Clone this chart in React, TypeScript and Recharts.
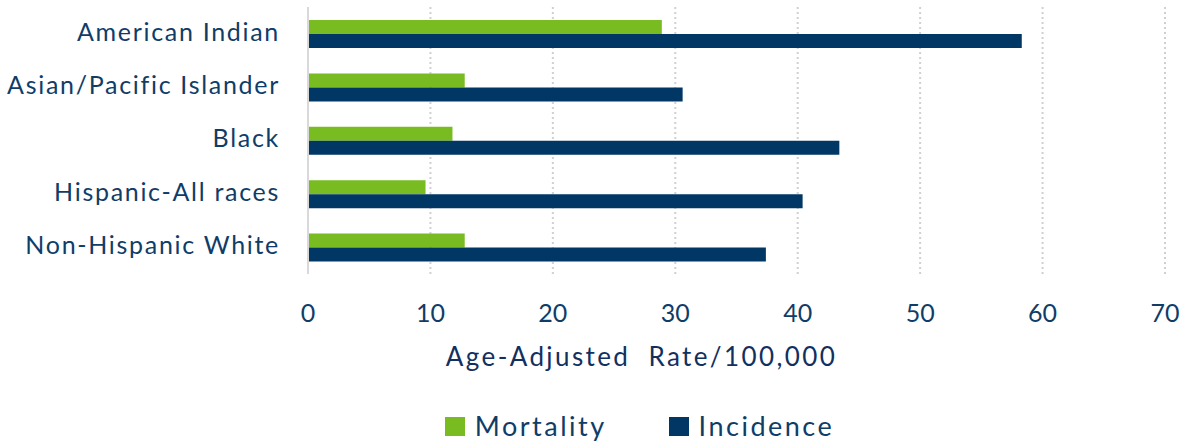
import { BarChart, Bar, XAxis, YAxis, CartesianGrid, Legend, Label } from "recharts";

const categories = [
  "American Indian",
  "Asian/Pacific Islander",
  "Black",
  "Hispanic-All races",
  "Non-Hispanic White"
];
const mortality = [28.9, 12.8, 11.8, 9.6, 12.8];
const incidence = [58.3, 30.6, 43.4, 40.4, 37.4];
const xTicks = [0, 10, 20, 30, 40, 50, 60, 70];

const data = categories.map((name, i) => ({
  name,
  Mortality: mortality[i],
  Incidence: incidence[i]
}));

const GREEN = "#78bc21";
const NAVY = "#003764";
const TEXT = "#0f3d68";
const FONT = "Lato, 'Open Sans', sans-serif";

function LegendBox() {
  const items = [
    { label: "Mortality", color: GREEN },
    { label: "Incidence", color: NAVY }
  ];
  return (
    <div
      style={{
        display: "flex",
        justifyContent: "center",
        paddingLeft: 114,
        paddingTop: 26,
        fontFamily: FONT,
        fontSize: 27,
        letterSpacing: 2.5,
        lineHeight: "32px",
        color: TEXT
      }}
    >
      {items.map((it, i) => (
        <div
          key={it.label}
          style={{ display: "flex", alignItems: "center", marginLeft: i ? 62 : 0 }}
        >
          <span style={{ width: 20, height: 19, background: it.color, marginRight: 10 }} />
          <span>{it.label}</span>
        </div>
      ))}
    </div>
  );
}

export default function App() {
  return (
    <div
      style={{
        position: "absolute",
        left: 0,
        top: 0,
        width: 1186,
        height: 444,
        overflow: "hidden",
        background: "#fff"
      }}
    >
      <BarChart
        layout="vertical"
        width={1186}
        height={444}
        data={data}
        margin={{ top: 7, right: 21, left: 0, bottom: 0 }}
        barGap={0}
        barSize={14}
      >
        <CartesianGrid
          horizontal={false}
          stroke="#d0d0d0"
          strokeWidth={2}
          strokeDasharray="2 3"
        />
        <XAxis
          type="number"
          domain={[0, 70]}
          ticks={xTicks}
          tickLine={false}
          axisLine={false}
          tickSize={0}
          tickMargin={30}
          height={110}
          tick={{ fill: TEXT, fontSize: 25, fontFamily: FONT }}
        >
          <Label
            value={"Age-Adjusted\u00a0 Rate/100,000"}
            position="insideBottom"
            offset={18}
            dx={-95}
            style={{ fill: "#12305f", fontSize: 26, fontFamily: FONT, letterSpacing: 2.4 }}
          />
        </XAxis>
        <YAxis
          type="category"
          dataKey="name"
          width={308}
          tickLine={false}
          tickSize={0}
          tickMargin={28}
          axisLine={{ stroke: "#d9d9d9", strokeWidth: 2 }}
          tick={{ fill: TEXT, fontSize: 25, fontFamily: FONT, letterSpacing: 1.7, dy: -2 }}
        />
        <Legend verticalAlign="bottom" height={60} content={() => <LegendBox />} />
        <Bar dataKey="Mortality" fill={GREEN} isAnimationActive={false} />
        <Bar dataKey="Incidence" fill={NAVY} isAnimationActive={false} />
      </BarChart>
    </div>
  );
}
